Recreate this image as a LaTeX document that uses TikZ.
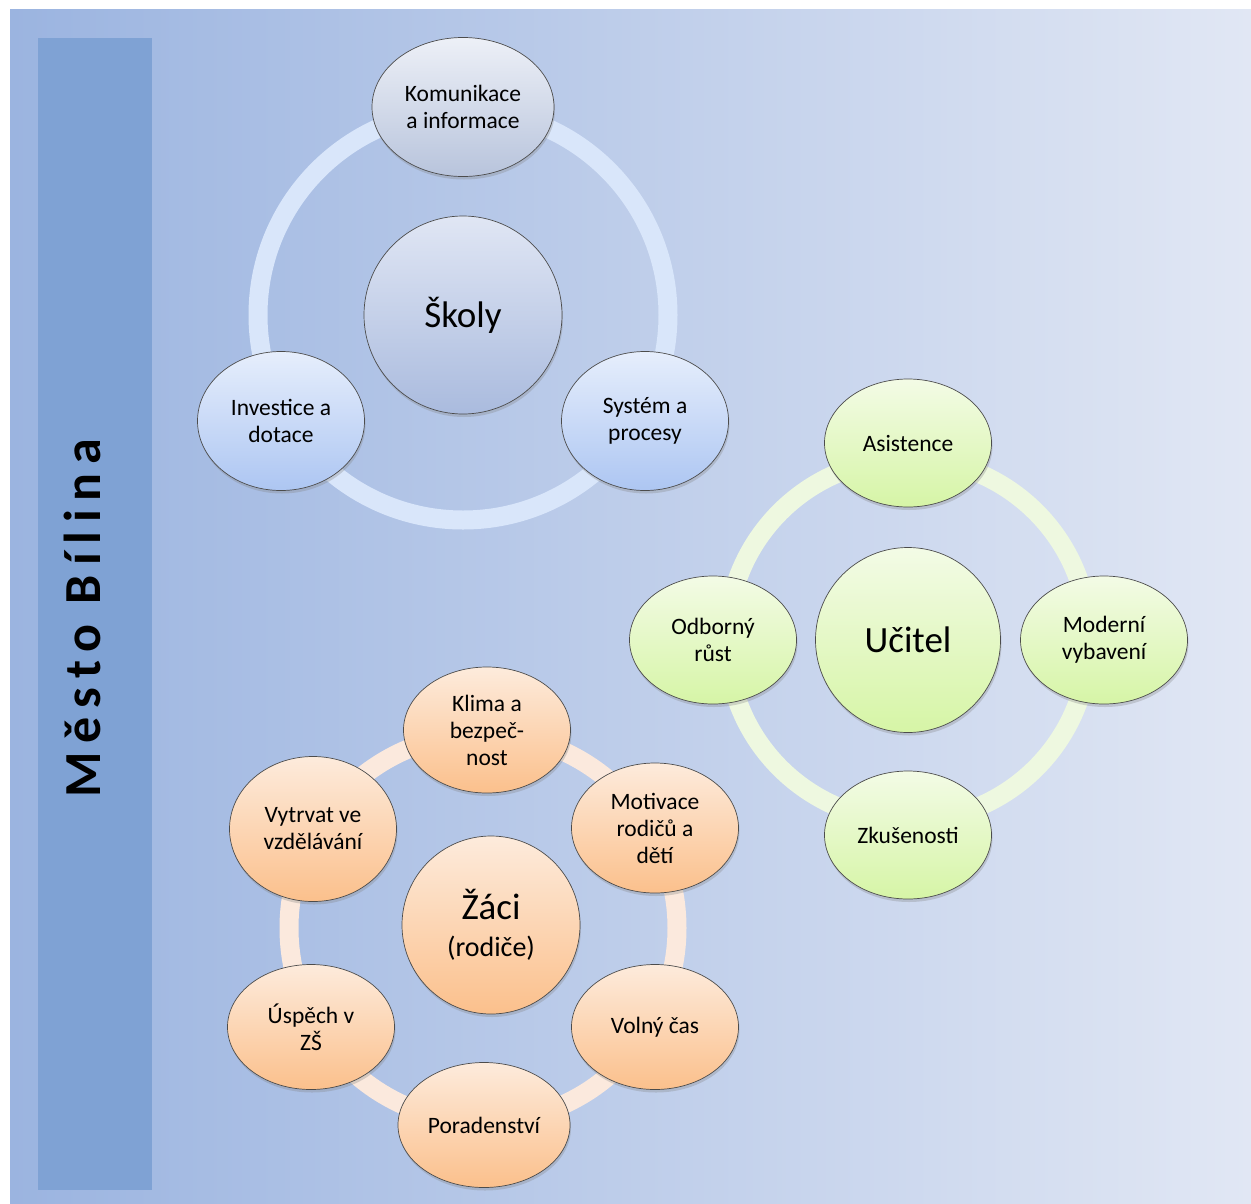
\documentclass[tikz,border=0pt]{standalone}
\usepackage{fontspec}
\setmainfont{Carlito}
\newfontfamily\titlefont[LetterSpace=17]{Carlito}
\usetikzlibrary{shapes.geometric,shadows}
\definecolor{bgleft}{HTML}{9BB4E0}
\definecolor{bgright}{HTML}{E1E7F4}
\definecolor{barblue}{HTML}{7FA2D4}
\definecolor{ringblue}{HTML}{D9E6FA}
\definecolor{ringgreen}{HTML}{EEF8E0}
\definecolor{ringorange}{HTML}{FBE9DD}
\tikzset{
  bubble/.style={ellipse, draw=black!70, line width=0.7pt, inner sep=0pt, align=center,
    minimum width=167pt, minimum height=128pt, font=\fontsize{23.5}{27}\selectfont,
    drop shadow={shadow xshift=1pt, shadow yshift=-3pt, opacity=0.3}},
  hub/.style={circle, font=\fontsize{37}{37}\selectfont},
  schoolb/.style={bubble, top color={rgb,255:red,230;green,238;blue,252}, bottom color={rgb,255:red,173;green,198;blue,242}},
  greenb/.style={bubble, top color={rgb,255:red,243;green,251;blue,230}, bottom color={rgb,255:red,214;green,245;blue,166}},
  orangeb/.style={bubble, top color={rgb,255:red,253;green,235;blue,220}, bottom color={rgb,255:red,251;green,192;blue,140}},
  ring/.style={line width=19pt}
}
\begin{document}
\begin{tikzpicture}[x=1pt, y=-1pt, line join=round, line cap=round]
	\useasboundingbox (0,0) rectangle (1251,1203);
	\fill[left color=bgleft, right color=bgright] (10,9) rectangle (1251,1203);
	\fill[barblue] (38,38) rectangle (152,1190);
	\node[rotate=90, anchor=base, font=\titlefont\fontsize{52}{60}\bfseries\selectfont] (title) at (100,618) {Město Bílina};
	% Skoly
	\coordinate (cs) at (463,315);
	\draw[ring, ringblue] (cs) circle[radius=205pt];
	\node[schoolb, top color={rgb,255:red,237;green,240;blue,247}, bottom color={rgb,255:red,184;green,196;blue,220}, minimum width=182pt, minimum height=139pt] (komunikace) at (463,107) {Komunikace\\a informace};
	\node[schoolb, minimum height=139pt] (investice) at (281,421) {Investice a\\dotace};
	\node[schoolb, minimum height=139pt] (system) at (645,421) {Systém a\\procesy};
	\node[schoolb, hub, top color={rgb,255:red,224;green,230;blue,244}, bottom color={rgb,255:red,170;green,187;blue,222}, minimum size=198pt] (skoly) at (cs) {Školy};
	% Ucitel
	\coordinate (cu) at (908,640);
	\draw[ring, ringgreen] (cu) circle[radius=181pt];
	\node[greenb] (asistence) at (908,443) {Asistence};
	\node[greenb] (odborny) at (713,640) {Odborný\\růst};
	\node[greenb] (moderni) at (1104,640) {Moderní\\vybavení};
	\node[greenb] (zkusenosti) at (908,835) {Zkušenosti};
	\node[greenb, hub, minimum size=185pt] (ucitel) at (cu) {Učitel};
	% Zaci
	\coordinate (cz) at (483,928);
	\draw[ring, ringorange] (cz) circle[radius=194pt];
	\node[orangeb, minimum height=126pt] (klima) at (487,730) {Klima a\\bezpeč-\\nost};
	\node[orangeb, minimum height=130pt] (motivace) at (655,828) {Motivace\\rodičů a\\dětí};
	\node[orangeb, minimum height=125pt] (volny) at (655,1027) {Volný čas};
	\node[orangeb, minimum width=172pt, minimum height=125pt] (poradenstvi) at (484,1125) {Poradenství};
	\node[orangeb, minimum height=125pt] (uspech) at (311,1027) {Úspěch v\\ZŠ};
	\node[orangeb, minimum height=145pt] (vytrvat) at (313,829) {Vytrvat ve\\vzdělávání};
	\node[orangeb, hub, minimum size=178pt] (zaci) at (491,925) {Žáci\\{\fontsize{28}{34}\selectfont(rodiče)}};
\end{tikzpicture}
\end{document}
